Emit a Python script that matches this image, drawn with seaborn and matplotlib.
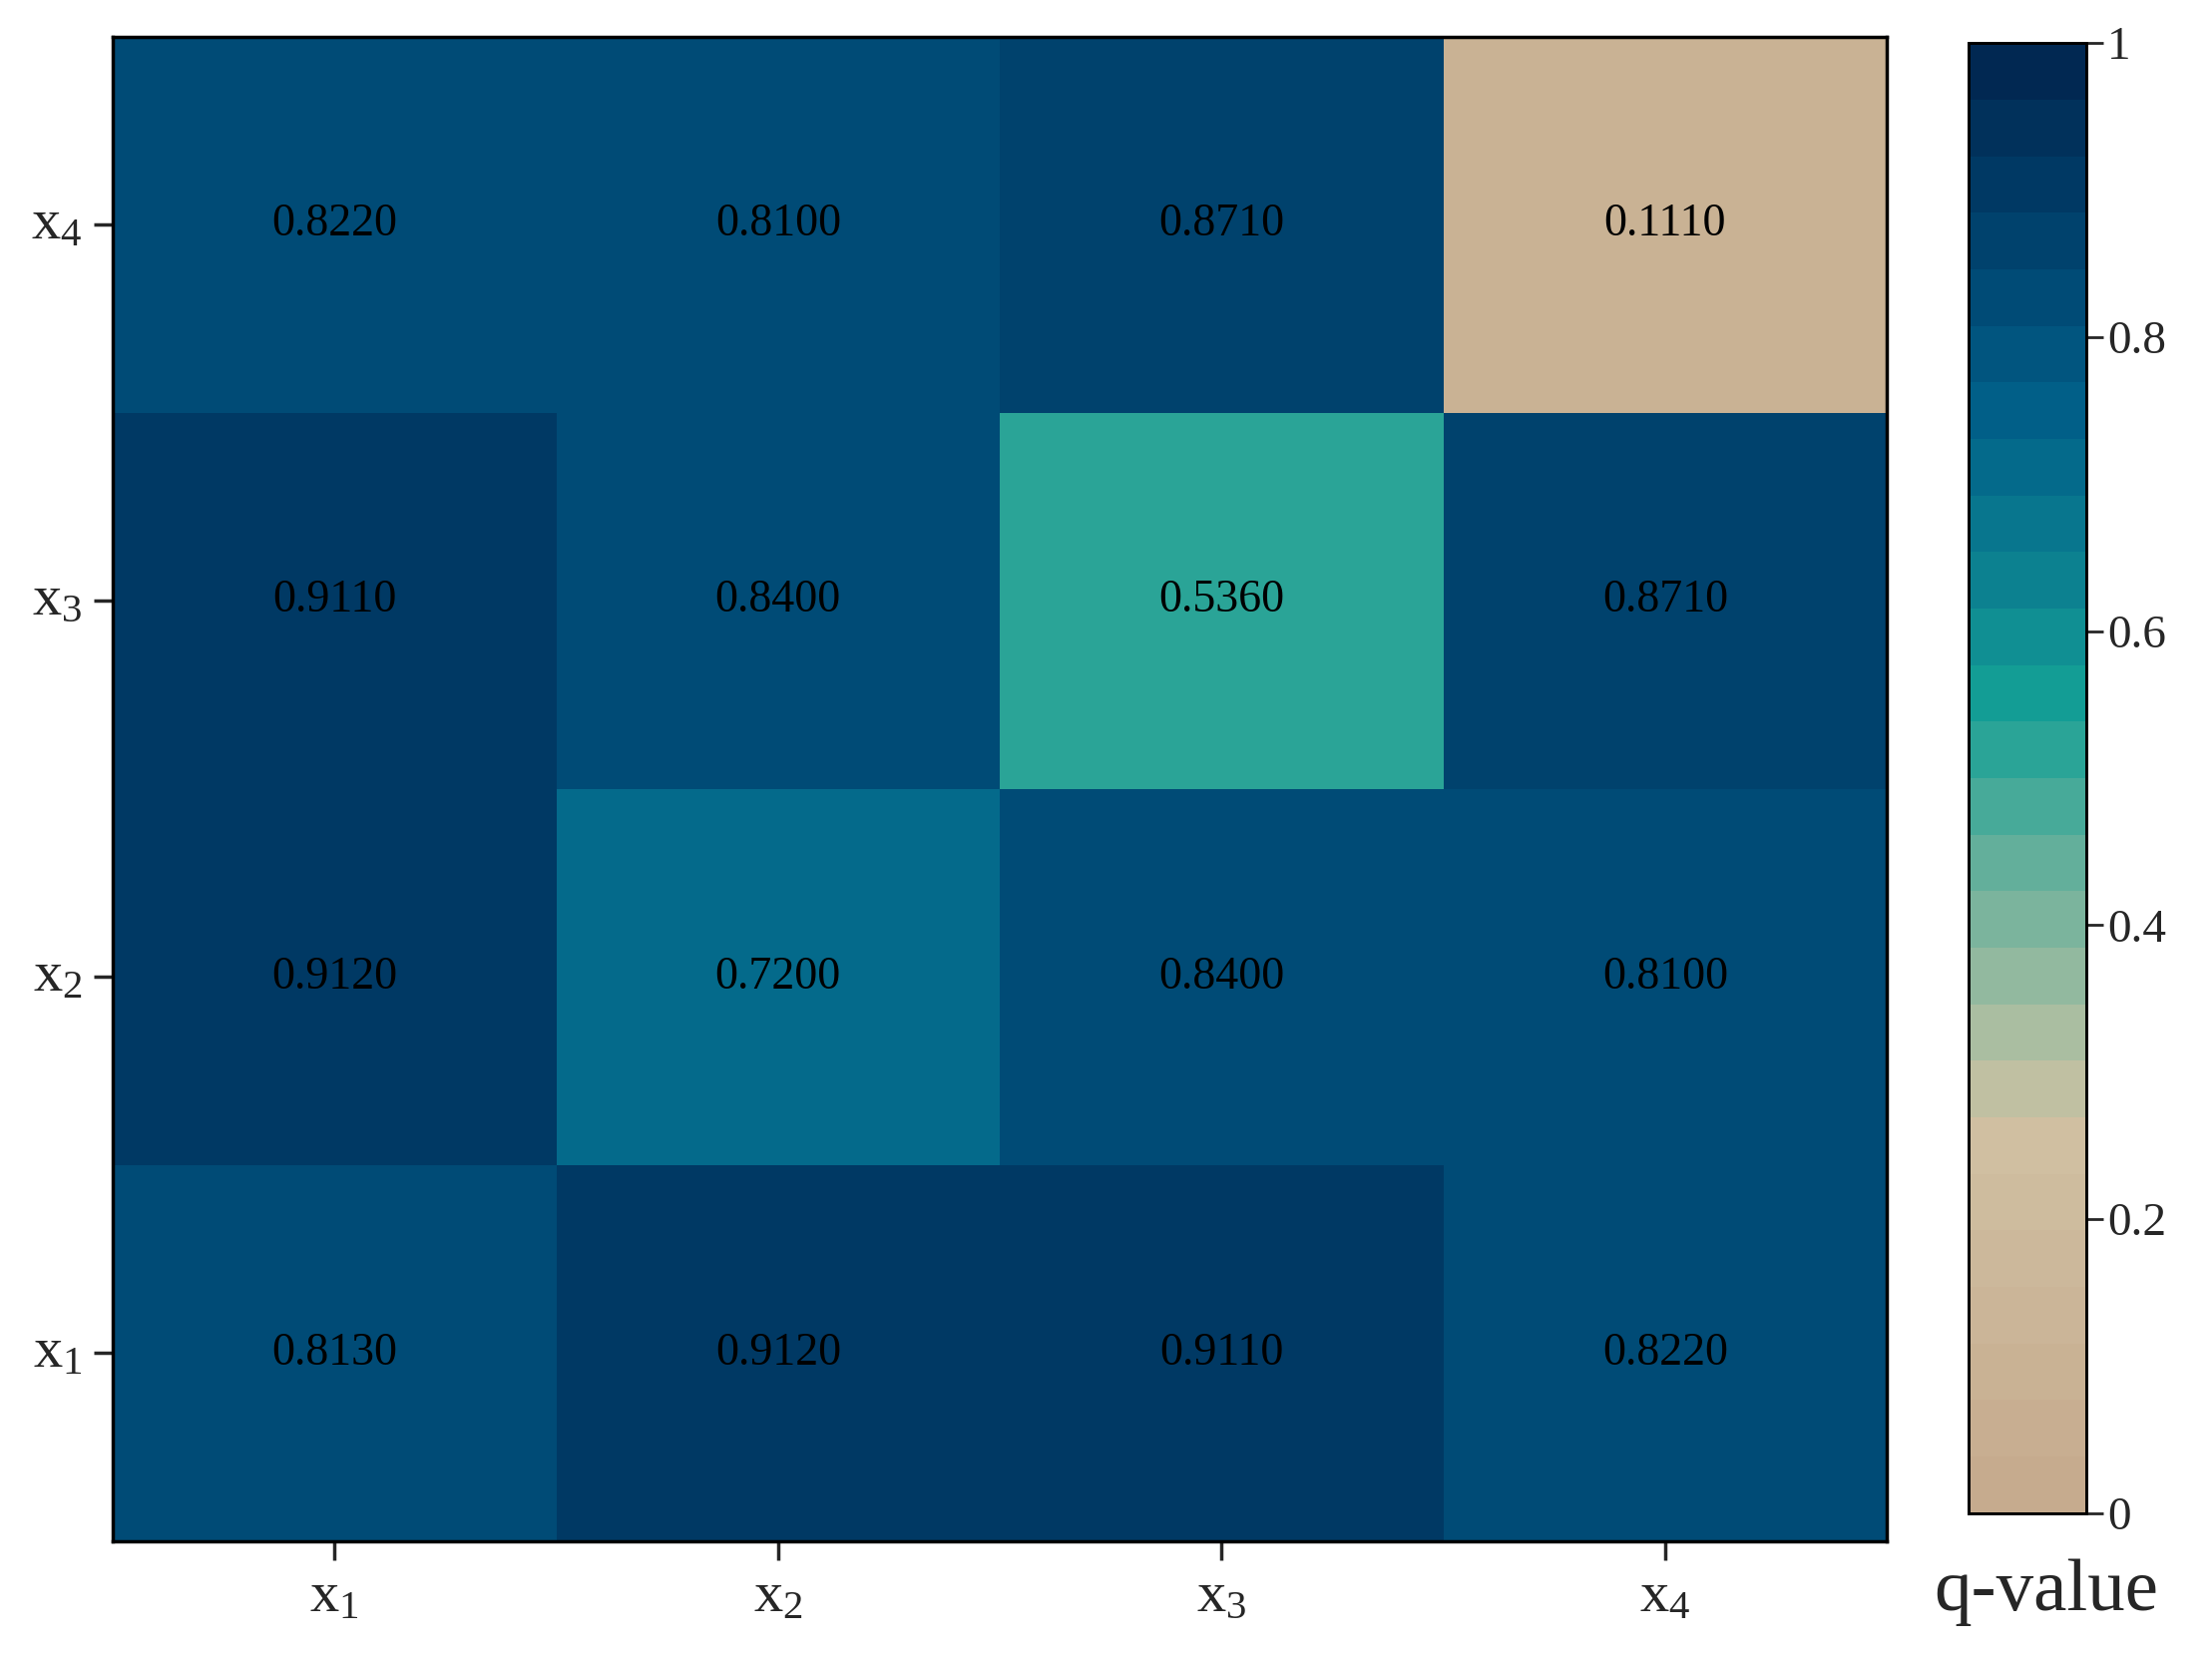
import numpy as np
import pandas as pd
import matplotlib
matplotlib.use("Agg")
import matplotlib.pyplot as plt
import seaborn as sns
from matplotlib.colors import LinearSegmentedColormap

# valores q (linhas de cima para baixo: x4, x3, x2, x1)
row_labels = ["x4", "x3", "x2", "x1"]
col_labels = ["x1", "x2", "x3", "x4"]
row_x4 = [0.822, 0.810, 0.871, 0.111]
row_x3 = [0.911, 0.840, 0.536, 0.871]
row_x2 = [0.912, 0.720, 0.840, 0.810]
row_x1 = [0.813, 0.912, 0.911, 0.822]

df = pd.DataFrame([row_x4, row_x3, row_x2, row_x1], index=row_labels, columns=col_labels)

sns.set_style("white")
plt.rcParams['font.family'] = ['Liberation Serif', 'DejaVu Serif']
plt.rcParams['mathtext.fontset'] = 'stix'

cmap = LinearSegmentedColormap.from_list("q", [
    (0.00, "#c6ab8e"), (0.25, "#d0c0a2"), (0.30, "#b6c0a2"),
    (0.45, "#5dae9a"), (0.55, "#14a096"), (0.65, "#0b7e8f"),
    (0.75, "#01628a"), (0.85, "#004874"), (1.00, "#012852")], N=26)

def sub(s):
    return r"$\mathregular{x_%s}$" % s[1]

fig = plt.figure(figsize=(22.17, 16.63), dpi=100)
ax = fig.add_axes([0.051, 0.071, 0.802, 0.907])
cax = fig.add_axes([0.890, 0.088, 0.053, 0.886])

sns.heatmap(df, ax=ax, cbar_ax=cax, cmap=cmap, vmin=0, vmax=1,
            annot=True, fmt=".4f", annot_kws={"fontsize": 33, "color": "black"},
            xticklabels=[sub(c) for c in col_labels],
            yticklabels=[sub(r) for r in row_labels])

for sp in ax.spines.values():
    sp.set_visible(True)
    sp.set_linewidth(2.5)
    sp.set_color("black")
ax.tick_params(axis="both", length=14, width=2.5, labelsize=42, pad=8,
               bottom=True, left=True, direction="out")
plt.setp(ax.get_yticklabels(), rotation=0)
plt.setp(ax.get_xticklabels(), rotation=0)

cax.set_yticks([0, 0.2, 0.4, 0.6, 0.8, 1])
cax.set_yticklabels(["0", "0.2", "0.4", "0.6", "0.8", "1"])
cax.tick_params(labelsize=34, length=12, width=2, direction="out", right=True)
for sp in cax.spines.values():
    sp.set_visible(True)
    sp.set_linewidth(2)
    sp.set_color("black")
fig.text(0.925, 0.04, "q-value", fontsize=54, ha="center", va="center")

fig.savefig("out.png", dpi=100)
